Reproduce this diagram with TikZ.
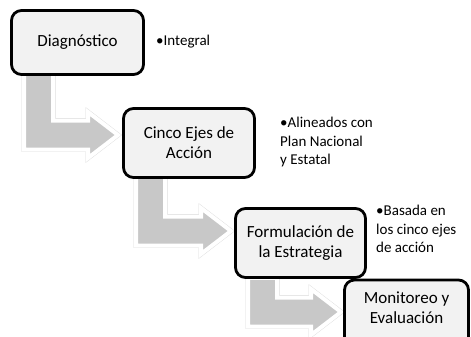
\documentclass[tikz,border=0pt]{standalone}
\usepackage{fontspec}
\setmainfont{Carlito}
\usetikzlibrary{calc}
\definecolor{boxfill}{HTML}{F2F2F2}
\definecolor{arrowgray}{HTML}{C8C8C8}
\tikzset{
  stepbox/.style={draw=black, line width=2.8pt, rounded corners=10pt, fill=boxfill,
    align=center, font=\fontsize{17}{20}\selectfont, inner sep=0pt},
  bullettext/.style={anchor=north west, align=left, inner sep=0pt,
    font=\fontsize{15}{18.5}\selectfont},
  arrowedge/.style={draw=black!14, line width=4.8pt, line join=miter},
  arrowbody/.style={fill=arrowgray, draw=white, line width=4pt, line join=miter},
}
\newcommand\bentshape[2]{%
  let \p1=(#1.south west), \p2=(#2) in
  (\x1+14pt,\y1+3pt) -- (\x1+43pt,\y1+3pt) -- (\x1+43pt,\y2+14.5pt)
  -- (\x2-30pt,\y2+14.5pt) -- (\x2-30pt,\y2+23pt) -- (\x2,\y2)
  -- (\x2-30pt,\y2-23pt) -- (\x2-30pt,\y2-14.5pt) -- (\x1+14pt,\y2-14.5pt) -- cycle}
\newcommand\bentarrow[2]{%
  \path[arrowedge] \bentshape{#1}{#2};
  \path[arrowbody] \bentshape{#1}{#2};}
\begin{document}
\begin{tikzpicture}[x=1pt,y=-1pt]
\useasboundingbox (0,0) rectangle (471,337);
\clip (0,0) rectangle (471,337);
\coordinate (t1) at (118,135);
\coordinate (t2) at (231,231);
\coordinate (t3) at (341,312);
\path (77.5,42.5) node[stepbox, draw=none, fill=none, minimum width=132pt, minimum height=64pt] (p1) {};
\path (189,143) node[stepbox, draw=none, fill=none, minimum width=131pt, minimum height=69pt] (p2) {};
\path (300.5,245) node[stepbox, draw=none, fill=none, minimum width=130pt, minimum height=69pt] (p3) {};
\bentarrow{p1}{t1}
\bentarrow{p2}{t2}
\bentarrow{p3}{t3}
\node[stepbox, minimum width=132pt, minimum height=64pt] (b1) at (77.5,42.5) {Diagnóstico};
\node[stepbox, minimum width=131pt, minimum height=69pt] (b2) at (189,143) {Cinco Ejes de\\Acción};
\node[stepbox, minimum width=130pt, minimum height=69pt] (b3) at (300.5,243) {Formulación de\\la Estrategia};
\node[stepbox, minimum width=124pt, minimum height=68pt] (b4) at (406.5,314) {};
\node[align=center, inner sep=0pt, font=\fontsize{17}{20}\selectfont] (l4) at (406.5,308) {Monitoreo y\\Evaluación};
\node[bullettext] (n1) at (156,35) {•Integral};
\node[bullettext] (n2) at (280,117) {•Alineados con\\Plan Nacional\\y Estatal};
\node[bullettext] (n3) at (376,205) {•Basada en\\los cinco ejes\\de acción};
\end{tikzpicture}
\end{document}
